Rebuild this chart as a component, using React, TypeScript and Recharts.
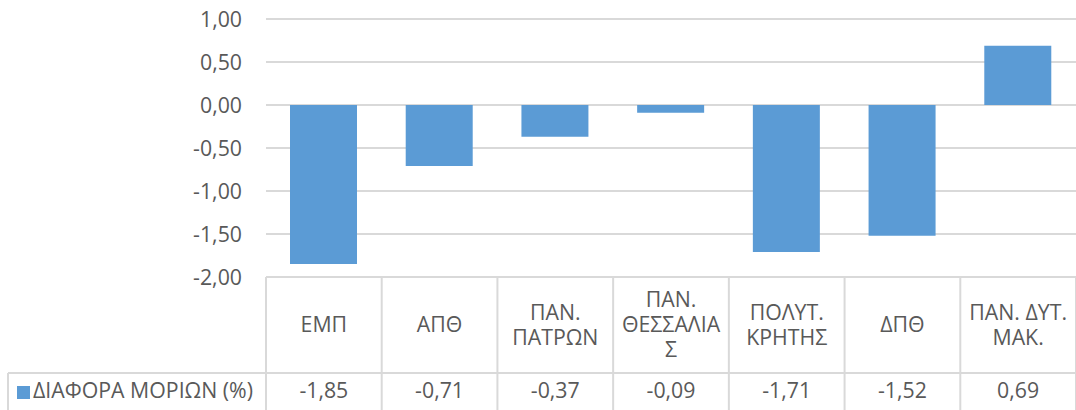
import React from 'react';
import { BarChart, Bar, XAxis, YAxis, CartesianGrid } from 'recharts';

const categories: string[][] = [
  ['ΕΜΠ'],
  ['ΑΠΘ'],
  ['ΠΑΝ.', 'ΠΑΤΡΩΝ'],
  ['ΠΑΝ.', 'ΘΕΣΣΑΛΙΑ', 'Σ'],
  ['ΠΟΛΥΤ.', 'ΚΡΗΤΗΣ'],
  ['ΔΠΘ'],
  ['ΠΑΝ. ΔΥΤ.', 'ΜΑΚ.'],
];
const diffValues = [-1.85, -0.71, -0.37, -0.09, -1.71, -1.52, 0.69];
const yTicks = [-2, -1.5, -1, -0.5, 0, 0.5, 1];
const seriesName = 'ΔΙΑΦΟΡΑ ΜΟΡΙΩΝ (%)';

const data = categories.map((lines, i) => ({ name: lines.join(' '), value: diffValues[i] }));

const FONT = '"Open Sans", sans-serif';
const TEXT = '#595959';
const LINE = '#d9d9d9';
const BLUE = '#5b9bd5';

const fmt = (v: number) => v.toFixed(2).replace('.', ',');

const W = 1076;
const H = 410;
const PLOT_LEFT = 266;
const PLOT_TOP = 19;
const PLOT_BOTTOM = 277;
const ROW_Y = 373;
const FS = 21.3;

// x-axis tick draws the data table: header cell, value cell, cell borders
const TableTick = (props: any) => {
  const { x, payload } = props;
  const idx = payload.index;
  const lines = categories[idx];
  const band = (W - PLOT_LEFT) / categories.length;
  const lineH = 25;
  const headMid = (PLOT_BOTTOM + ROW_Y) / 2;
  const startY = headMid - ((lines.length - 1) * lineH) / 2;
  return (
    <g>
      {idx === 0 && (
        <g>
          <line x1={PLOT_LEFT} x2={PLOT_LEFT} y1={PLOT_BOTTOM} y2={H} stroke={LINE} strokeWidth={2} />
          <line x1={8} x2={W} y1={ROW_Y} y2={ROW_Y} stroke={LINE} strokeWidth={2} />
          <line x1={8} x2={8} y1={ROW_Y} y2={H} stroke={LINE} strokeWidth={2} />
          <rect x={17} y={386} width={13} height={13} fill={BLUE} />
          <text x={33} y={391} dy="0.35em" fill={TEXT} fontSize={FS} fontFamily={FONT}>
            {seriesName}
          </text>
        </g>
      )}
      <line x1={x + band / 2} x2={x + band / 2} y1={PLOT_BOTTOM} y2={H} stroke={LINE} strokeWidth={2} />
      <text
        x={x}
        y={startY}
        textAnchor="middle"
        fill={TEXT}
        fontSize={FS}
        fontFamily={FONT}
      >
        {lines.map((l, j) => (
          <tspan key={j} x={x} dy={j === 0 ? '0.35em' : lineH}>
            {l}
          </tspan>
        ))}
      </text>
      <text x={x} y={391} dy="0.35em" textAnchor="middle" fill={TEXT} fontSize={FS} fontFamily={FONT}>
        {fmt(diffValues[idx])}
      </text>
    </g>
  );
};

export default function App() {
  return (
    <div style={{ position: 'absolute', left: 0, top: 0, width: W, height: H, background: '#fff' }}>
      <BarChart
        width={W}
        height={H}
        data={data}
        margin={{ top: PLOT_TOP, right: 0, bottom: 0, left: 0 }}
      >
        <CartesianGrid vertical={false} stroke={LINE} strokeWidth={2} />
        <XAxis
          dataKey="name"
          height={H - PLOT_BOTTOM}
          axisLine={false}
          tickLine={false}
          tickSize={0}
          tickMargin={0}
          interval={0}
          tick={<TableTick />}
        />
        <YAxis
          width={PLOT_LEFT}
          domain={[-2, 1]}
          ticks={yTicks}
          axisLine={false}
          tickLine={false}
          tickSize={0}
          tickMargin={24}
          tickFormatter={fmt}
          tick={{ fill: TEXT, fontSize: FS, fontFamily: FONT }}
        />
        <Bar dataKey="value" fill={BLUE} barSize={67} isAnimationActive={false} />
      </BarChart>
    </div>
  );
}
